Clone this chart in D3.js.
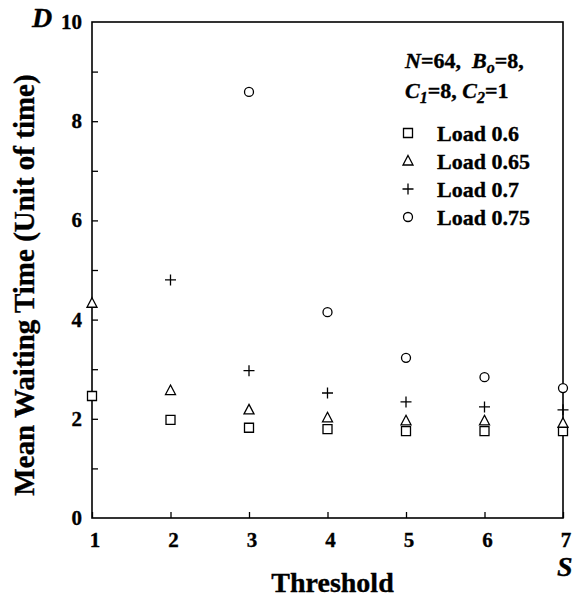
<!DOCTYPE html>
<meta charset="utf-8">
<style>
body{margin:0;background:#fff;}
text{font-family:"Liberation Serif","Times New Roman",serif;font-weight:bold;fill:#000;stroke:#000;stroke-width:0.35px;}
.frame{fill:none;stroke:#000;stroke-width:1.6px;}
.mark{fill:#fff;stroke:#000;stroke-width:1.3px;}
.it{font-style:italic;}
.lab{font-size:21px;}
</style>
<body>
<script src="https://d3js.org/d3.v7.min.js"></script>
<script>

var thresholds=[1,2,3,4,5,6,7];
var load060=[2.46,1.98,1.82,1.79,1.75,1.75,1.75];
var load065=[4.33,2.57,2.18,2.02,1.96,1.96,1.91];
var load070=[null,4.8,2.97,2.52,2.34,2.24,2.18];
var load075=[null,null,8.59,4.15,3.23,2.84,2.62];
var seriesNames=["Load 0.6","Load 0.65","Load 0.7","Load 0.75"];
var seriesShapes=["square","triangle","plus","circle"];
var yTicks=[0,2,4,6,8,10];

var series=[load060,load065,load070,load075].map(function(v,i){
	return {name:seriesNames[i],shape:seriesShapes[i],
		points:v.map(function(y,j){return {x:thresholds[j],y:y};}).filter(function(d){return d.y!=null;})};
});

var W=576,H=599;
var m={left:92,right:13,top:22,bottom:81};
var svg=d3.select("body").append("svg").attr("width",W).attr("height",H);

var x=d3.scaleLinear().domain([1,7]).range([m.left,W-m.right]);
var y=d3.scaleLinear().domain([0,10]).range([H-m.bottom,m.top]);

// marker shapes, drawn at 0,0
function shapePath(s){
	if(s=="square") return "M-4.5,-4.5h9v9h-9z";
	if(s=="triangle") return "M0,-5.5L5,4L-5,4z";
	if(s=="plus") return "M-5.5,0H5.5M0,-5.5V5.5";
	return "M4.5,0A4.5,4.5 0 1,1 -4.5,0A4.5,4.5 0 1,1 4.5,0z";
}

// axes: ticks only, labels drawn below
var gx=svg.append("g").attr("transform","translate(0,"+(H-m.bottom)+")")
	.call(d3.axisBottom(x).ticks(7).tickSize(-6).tickFormat(""));
var gy=svg.append("g").attr("transform","translate("+m.left+",0)")
	.call(d3.axisLeft(y).ticks(10).tickSize(-6).tickFormat(""));
[gx,gy].forEach(function(g){
	g.select(".domain").remove();
	g.selectAll(".tick line").attr("stroke","#000").attr("stroke-width",1.3);
});
gy.selectAll(".tick").filter(function(d){return d==0||d==10;}).select("line").remove();

svg.append("g").selectAll("text").data(thresholds).enter().append("text")
	.attr("class","lab").attr("text-anchor","middle")
	.attr("x",function(d){return x(d)+3;}).attr("y",H-m.bottom+29).text(function(d){return d;});
svg.append("g").selectAll("text").data(yTicks).enter().append("text")
	.attr("class","lab").attr("text-anchor","end")
	.attr("x",m.left-10).attr("y",function(d){return y(d)+7;}).text(function(d){return d;});

svg.append("rect").attr("class","frame")
	.attr("x",x(1)).attr("y",y(10)).attr("width",x(7)-x(1)).attr("height",y(0)-y(10));

// points
series.forEach(function(s){
	svg.append("g").selectAll("path").data(s.points).enter().append("path")
		.attr("class","mark")
		.attr("transform",function(d){return "translate("+x(d.x)+","+y(d.y)+")";})
		.attr("d",shapePath(s.shape));
});

// axis titles
svg.append("text").attr("transform","translate(34,285) rotate(-90)")
	.attr("text-anchor","middle").style("font-size","29px").text("Mean Waiting Time (Unit of time)");
svg.append("text").attr("x",(x(1)+x(7))/2+5).attr("y",592)
	.attr("text-anchor","middle").style("font-size","28px").text("Threshold");
svg.append("text").attr("x",32).attr("y",27).attr("class","it").style("font-size","28px").text("D");
svg.append("text").attr("x",557).attr("y",576).attr("class","it").style("font-size","28px").text("S");

// parameters
function param(yy,parts){
	var t=svg.append("text").attr("x",405).attr("y",yy).style("font-size","22px");
	parts.forEach(function(p){
		var s=t.append("tspan").text(p[0]);
		if(p[1]) s.attr("class","it");
		if(p[2]) s.attr("dy",p[2]);
		if(p[3]) s.style("font-size",p[3]);
	});
}
param(68,[["N",1],["=64,\u00a0\u00a0"],["B",1],["o",1,5,"16px"],["=8,",0,-5]]);
param(98,[["C",1],["1",1,5,"16px"],["=8, ",0,-5],["C",1],["2",1,5,"16px"],["=1",0,-5]]);

// legend
var leg=svg.append("g").selectAll("g").data(series).enter().append("g")
	.attr("transform",function(d,i){return "translate(408,"+(133+i*28)+")";});
leg.append("path").attr("class","mark").attr("d",function(d){return shapePath(d.shape);});
leg.append("text").attr("x",29).attr("y",8).style("font-size","22px").text(function(d){return d.name;});

</script>
</body>
</html>
